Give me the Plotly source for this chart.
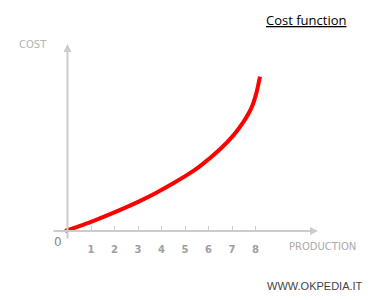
import plotly.graph_objects as go

# Data
production = [-0.1, 1.03, 2.02, 3.05, 3.80, 4.50, 5.21, 5.64, 6.49, 7.06, 7.48, 7.84, 8.05, 8.19]
cost = [0.0, 0.40, 0.80, 1.26, 1.64, 2.03, 2.46, 2.76, 3.48, 4.07, 4.63, 5.27, 5.92, 6.57]
tick_values = [1, 2, 3, 4, 5, 6, 7, 8]
tick_labels = ["1", "2", "3", "4", "5", "6", "7", "8"]

W, H = 370, 300
PX = 23.5          # pixels per unit
X0, Y0 = 67.5, 231  # pixel position of the origin

xmin = -X0 / PX
xmax = xmin + W / PX
ymax = Y0 / PX
ymin = ymax - H / PX

fig = go.Figure()
fig.add_trace(go.Scatter(
    x=production, y=cost, mode="lines",
    line=dict(color="#ff0000", width=4, shape="spline", smoothing=0.5),
    hoverinfo="skip", showlegend=False,
))

axis_grey = "#cccccc"
# x axis arrow
fig.add_annotation(x=(318 - X0) / PX, y=0, ax=(52 - X0) / PX, ay=0,
                   xref="x", yref="y", axref="x", ayref="y",
                   showarrow=True, arrowhead=2, arrowsize=0.8, arrowwidth=2,
                   arrowcolor=axis_grey, text="")
# y axis arrow
fig.add_annotation(x=0, y=(Y0 - 44) / PX, ax=0, ay=(Y0 - 240) / PX,
                   xref="x", yref="y", axref="x", ayref="y",
                   showarrow=True, arrowhead=2, arrowsize=0.8, arrowwidth=2,
                   arrowcolor=axis_grey, text="")

def ptext(txt, x, y, size, color, family="DejaVu Sans"):
    fig.add_annotation(x=x / W, y=1 - y / H, xref="paper", yref="paper",
                       text=txt, showarrow=False, xanchor="center", yanchor="middle",
                       font=dict(size=size, color=color, family=family))

ptext("COST", 33, 44, 10, "#b5b5b5")
ptext("0", 58, 242, 12, "#888888")
ptext("PRODUCTION", 322, 246.5, 10, "#aaaaaa")
ptext("<u>Cost function</u>", 306, 20, 13, "#000000", "Open Sans")
ptext("WWW.OKPEDIA.IT", 314.5, 286, 11, "#444444", "Liberation Sans")

fig.update_layout(
    width=W, height=H,
    margin=dict(l=0, r=0, t=0, b=0),
    paper_bgcolor="white", plot_bgcolor="white",
    xaxis=dict(range=[xmin, xmax], domain=[0, 1], anchor="free", position=1 - Y0 / H,
               showgrid=False, zeroline=False, showline=False,
               ticks="inside", ticklen=5, tickwidth=1, tickcolor=axis_grey,
               tickvals=tick_values, ticktext=tick_labels,
               tickfont=dict(size=10, color="#a0a0a0", family="DejaVu Sans", weight="bold"),
               ticklabelstandoff=11),
    yaxis=dict(range=[ymin, ymax], domain=[0, 1], showgrid=False, zeroline=False,
               showline=False, showticklabels=False, ticks=""),
    showlegend=False,
)

fig.write_html("out.html")
